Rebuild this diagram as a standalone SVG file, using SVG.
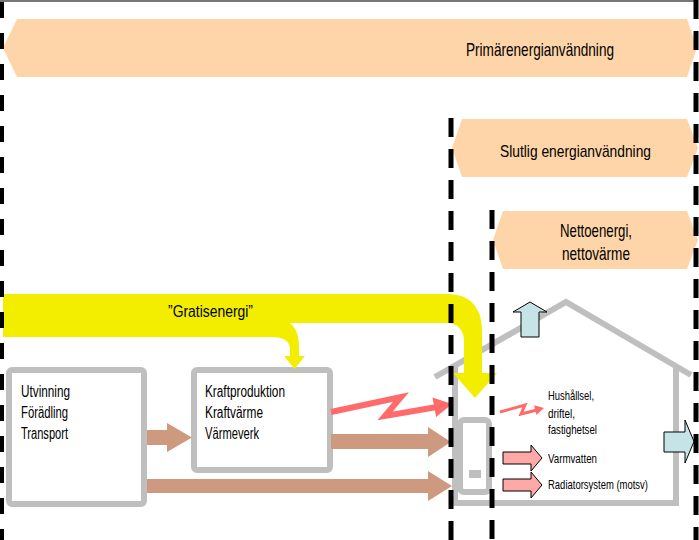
<svg xmlns="http://www.w3.org/2000/svg" width="699" height="540" viewBox="0 0 699 540">
<style>
.band{fill:#FED5A8;stroke:none}
.bt{font-family:"Liberation Sans",Arial,sans-serif;font-size:19px;fill:#000}
.lt{font-family:"Liberation Sans",Arial,sans-serif;font-size:16px;fill:#000}
.st{font-family:"Liberation Sans",Arial,sans-serif;font-size:13.5px;fill:#000}
.box{fill:#fff;stroke:#BFBFBF;stroke-width:6}
.gray{fill:none;stroke:#BFBFBF;stroke-width:6}
.dash{stroke:#000;stroke-width:5;stroke-dasharray:19 12;fill:none}
.brown{fill:#CD9A80;stroke:none}
.yel{fill:#F3EE00;stroke:none}
.red{fill:none;stroke:#FF6B6B;stroke-linejoin:miter}
.redh{fill:#FF6B6B;stroke:none}
.pink{fill:#FFA8A8;stroke:#000;stroke-width:1}
.blue{fill:#C6E4E8;stroke:#000;stroke-width:1}
</style>
<rect x="0" y="0" width="699" height="540" fill="#fff"/>
<line x1="0" y1="1" x2="697" y2="1" stroke="#777" stroke-width="2"/>

<g id="band-primary">
<polygon class="band" points="3,48 17,19 687,19 697,48 687,77 17,77"/>
<text class="bt" x="540" y="56" text-anchor="middle" textLength="148" lengthAdjust="spacingAndGlyphs">Primärenergianvändning</text>
</g>
<g id="band-final">
<polygon class="band" points="452,148 462,119 687,119 698,148 687,177 462,177"/>
<text class="bt" x="575.5" y="157" text-anchor="middle" style="font-size:17px" textLength="151" lengthAdjust="spacingAndGlyphs">Slutlig energianvändning</text>
</g>
<g id="band-net">
<polygon class="band" points="493,240 503,211 687,211 698,240 687,269 503,269"/>
<text class="bt" x="596" y="237" text-anchor="middle" textLength="72" lengthAdjust="spacingAndGlyphs">Nettoenergi,</text>
<text class="bt" x="596" y="260" text-anchor="middle" textLength="68" lengthAdjust="spacingAndGlyphs">nettovärme</text>
</g>

<g id="house">
<polyline class="gray" points="435,377 566,302 691,375"/>
<polyline class="gray" points="455,366 455,503 676,503 676,366"/>
</g>

<g id="boiler">
<rect class="box" x="460" y="420" width="29" height="72" rx="4"/>
<rect x="469" y="470" width="12" height="8" fill="#BFBFBF"/>
</g>

<g id="box-extraction">
<rect class="box" x="9" y="370" width="135" height="134" rx="3"/>
<text class="lt" x="21" y="397" textLength="49" lengthAdjust="spacingAndGlyphs">Utvinning</text>
<text class="lt" x="21" y="418" textLength="47" lengthAdjust="spacingAndGlyphs">Förädling</text>
<text class="lt" x="21" y="439" textLength="47" lengthAdjust="spacingAndGlyphs">Transport</text>
</g>

<g id="box-power">
<rect class="box" x="194" y="370" width="136" height="100" rx="3"/>
<text class="lt" x="205" y="397" textLength="80" lengthAdjust="spacingAndGlyphs">Kraftproduktion</text>
<text class="lt" x="205" y="418" textLength="58" lengthAdjust="spacingAndGlyphs">Kraftvärme</text>
<text class="lt" x="205" y="439" textLength="54" lengthAdjust="spacingAndGlyphs">Värmeverk</text>
</g>

<g id="labels-house">
<text class="st" x="548" y="400" textLength="46" lengthAdjust="spacingAndGlyphs">Hushållsel,</text>
<text class="st" x="548" y="418" textLength="27" lengthAdjust="spacingAndGlyphs">driftel,</text>
<text class="st" x="548" y="434" textLength="49" lengthAdjust="spacingAndGlyphs">fastighetsel</text>
<text class="st" x="548" y="463" textLength="49" lengthAdjust="spacingAndGlyphs">Varmvatten</text>
<text class="st" x="548" y="489" textLength="100" lengthAdjust="spacingAndGlyphs">Radiatorsystem (motsv)</text>
</g>

<g id="connectors">
<path class="yel" d="M3 318 L272 318 C290 318 299 328 299 345 L299 356 L305 356 L294.5 369 L284 356 L290 356 L290 349 C290 341 283 337 272 337 L3 337 Z"/>
<path class="yel" d="M3 294 L448 294 C470 294 482 308 482 330 L482 373 L497 373 L475 398 L453 373 L464 373 L464 342 C464 330 458 323 446 323 L3 323 Z"/>
<text class="bt" x="168" y="317" style="font-size:17px" textLength="85" lengthAdjust="spacingAndGlyphs">”Gratisenergi”</text>
<polygon class="brown" points="147,430 167,430 167,423 192,437.5 167,452 167,445 147,445"/>
<polygon class="brown" points="331,434 428,434 428,427 451,442 428,457 428,449 331,449"/>
<polygon class="brown" points="147,479 428,479 428,471 452,486 428,501 428,493 147,493"/>
<polyline class="red" stroke-width="6" points="331,412 401,397 385,416 437,407"/>
<polygon class="redh" points="432.5,397.4 452,404 436.1,417"/>
<polyline class="red" stroke-width="3" points="500,412 525,405 521,414 537,410"/>
<polygon class="redh" points="534.1,405.3 544,408 536.5,415.1"/>
<polygon class="pink" points="503,452 531,452 531,445 542,458 531,471 531,464 503,464"/>
<polygon class="pink" points="503,479 531,479 531,472 542,485 531,498 531,491 503,491"/>
<polygon class="blue" points="521,337 521,312 513,312 530,302 547,312 539,312 539,337"/>
<polygon class="blue" points="664,432 685,432 685,420 694,441.5 685,463 685,452 664,452"/>
</g>

<g id="boundaries">
<line class="dash" x1="2" y1="2" x2="2" y2="540" style="stroke-width:4;stroke-dasharray:16 15"/>
<line class="dash" x1="451" y1="118" x2="451" y2="540"/>
<line class="dash" x1="492" y1="210" x2="492" y2="540"/>
<line class="dash" x1="696" y1="0" x2="696" y2="540"/>
</g>
</svg>
